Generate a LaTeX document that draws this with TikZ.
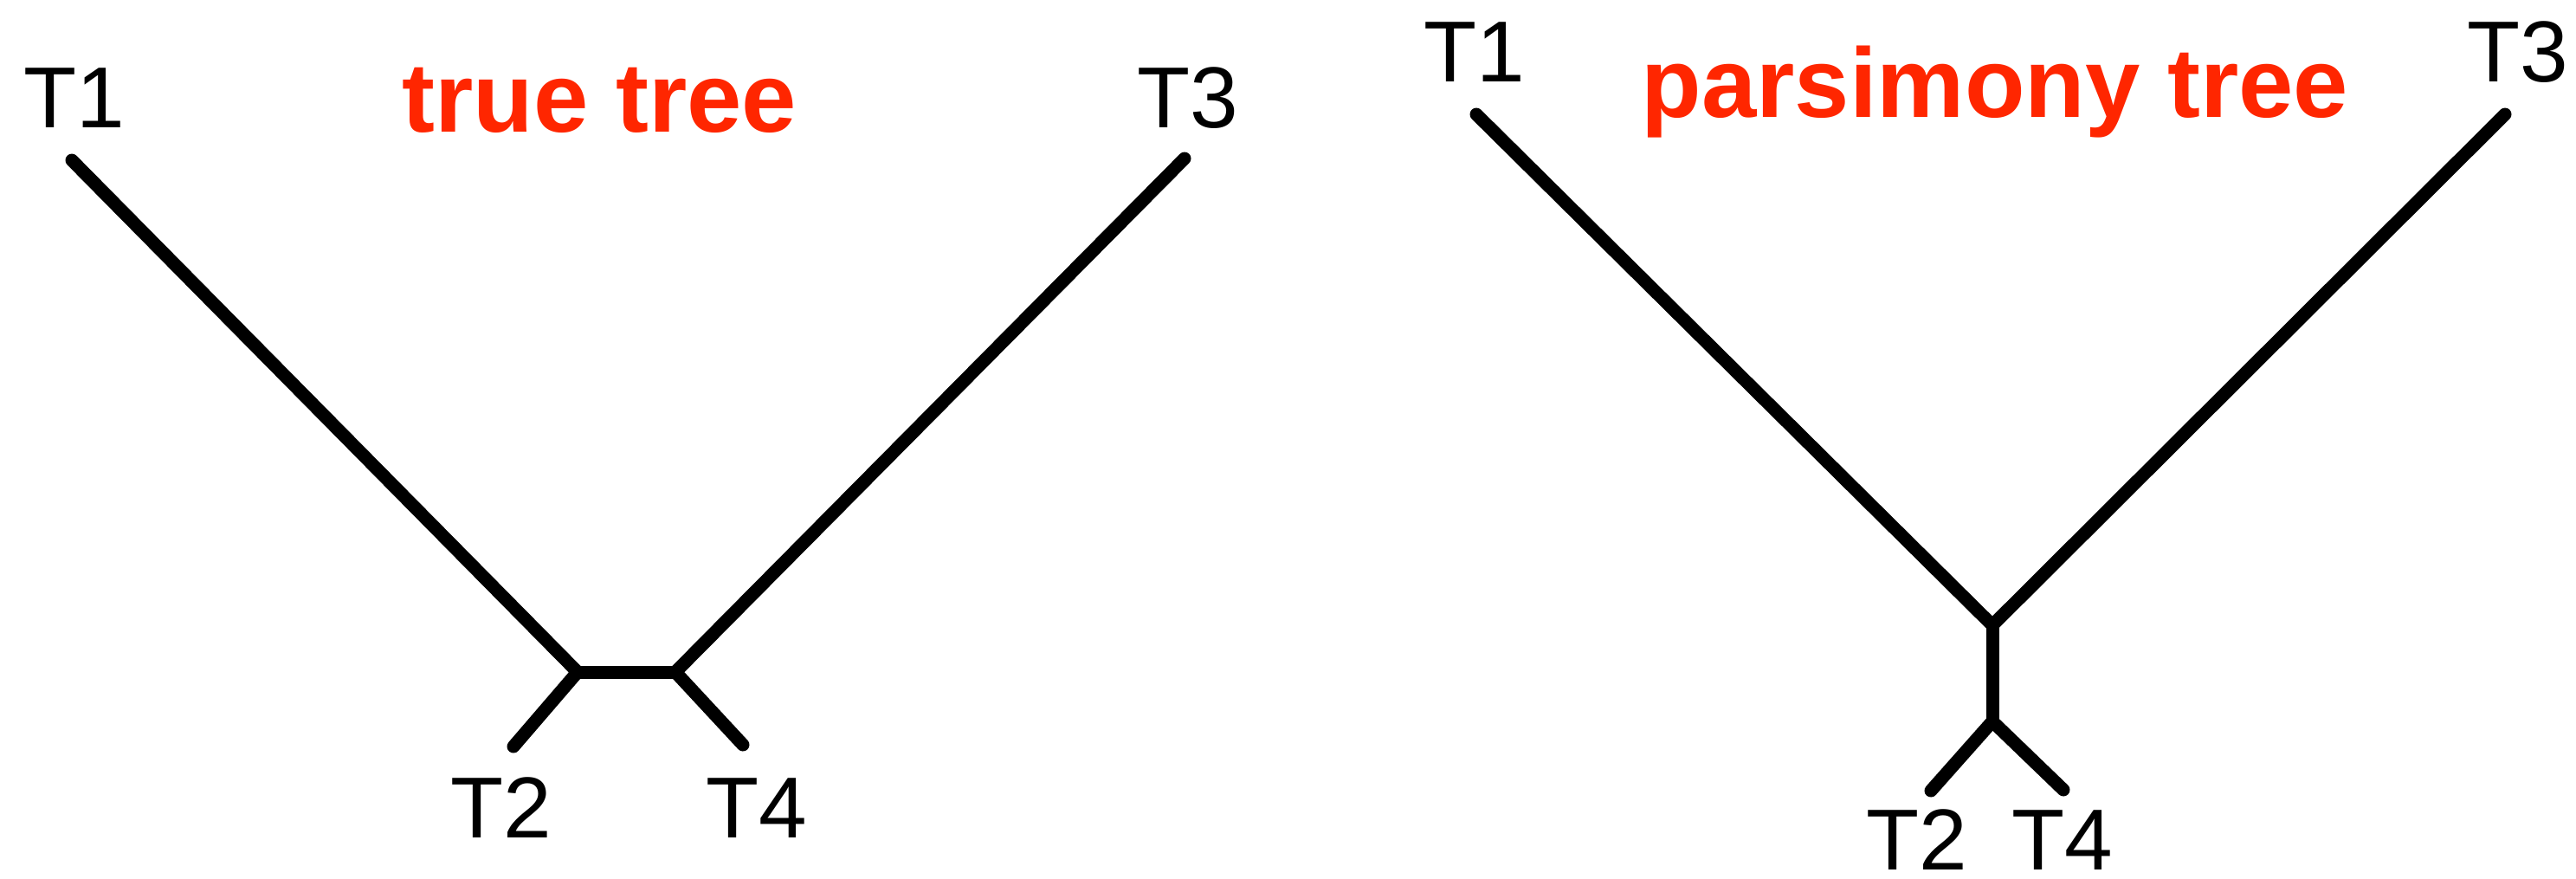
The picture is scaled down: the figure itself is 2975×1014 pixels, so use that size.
\documentclass[tikz,border=0pt]{standalone}
\usepackage{fontspec}
\setmainfont{Liberation Sans}
\definecolor{titlered}{RGB}{255,38,0}
\begin{document}
\begin{tikzpicture}[x=0.1mm,y=-0.1mm,
  taxon/.style={anchor=base west,inner sep=0pt,font=\fontsize{28.45pt}{34pt}\selectfont},
  heading/.style={anchor=base west,inner sep=0pt,text=titlered,font=\fontsize{32.4pt}{38pt}\selectfont\bfseries},
  branch/.style={line width=1.5mm,line cap=round,line join=round}]
\useasboundingbox (0,0) rectangle (2975,1014);

% ---- true tree ----
\node[heading] (titleA) at (464,152) {true tree};
\node[taxon] (aT1) at (27,147) {T1};
\node[taxon] (aT3) at (1313,147) {T3};
\node[taxon] (aT2) at (520,967) {T2};
\node[taxon] (aT4) at (815,967) {T4};

\coordinate (a1) at (83,185);
\coordinate (a3) at (1368,183);
\coordinate (a2) at (593,862);
\coordinate (a4) at (858,860);
\coordinate (au) at (667,776);
\coordinate (av) at (780,776);

\draw[branch] (a1) -- (au);
\draw[branch] (a3) -- (av);
\draw[branch] (au) -- (av);
\draw[branch] (au) -- (a2);
\draw[branch] (av) -- (a4);

% ---- parsimony tree ----
\node[heading] (titleB) at (1895,135) {parsimony tree};
\node[taxon] (bT1) at (1644,94) {T1};
\node[taxon] (bT3) at (2849,94) {T3};
\node[taxon] (bT2) at (2155,1004) {T2};
\node[taxon] (bT4) at (2323,1004) {T4};

\coordinate (b1) at (1705,132);
\coordinate (b3) at (2893,132);
\coordinate (b2) at (2230,913);
\coordinate (b4) at (2383,912);
\coordinate (bu) at (2301,722);
\coordinate (bv) at (2301,833);

\draw[branch] (b1) -- (bu);
\draw[branch] (b3) -- (bu);
\draw[branch] (bu) -- (bv);
\draw[branch] (bv) -- (b2);
\draw[branch] (bv) -- (b4);
\end{tikzpicture}
\end{document}
